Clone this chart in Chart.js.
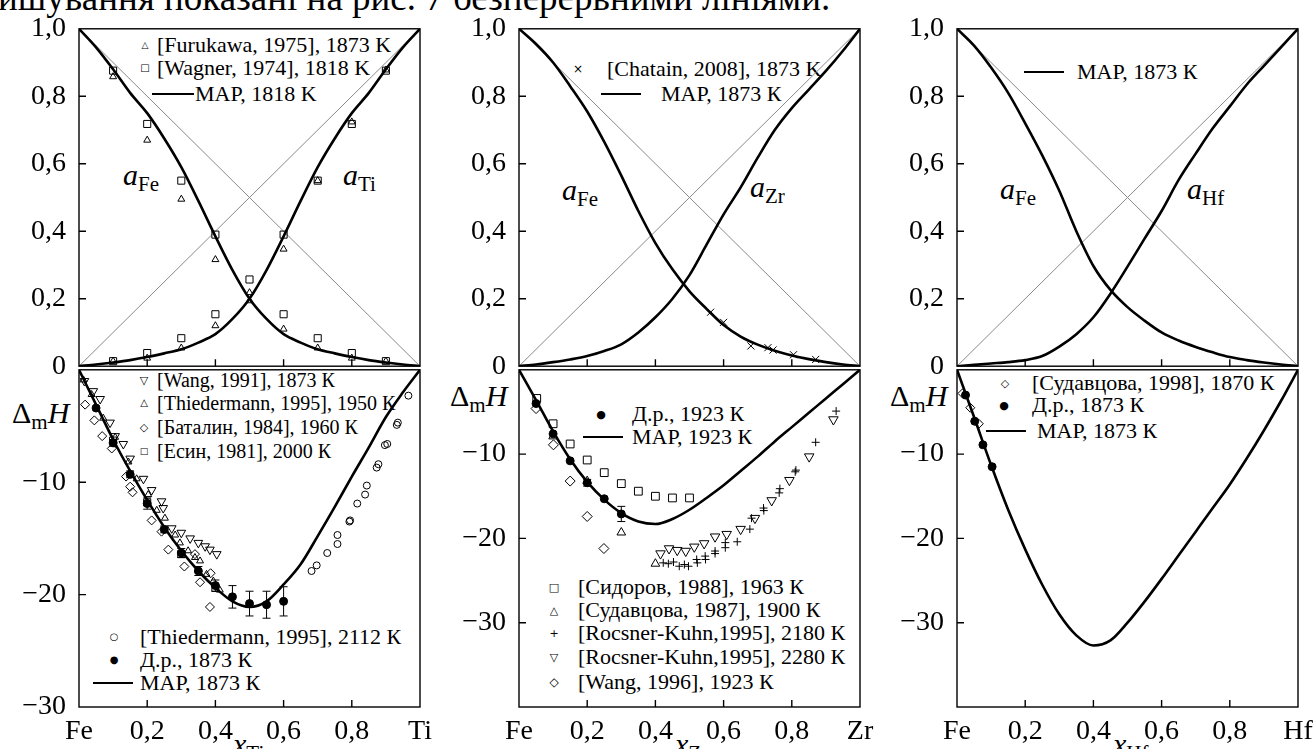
<!DOCTYPE html>
<html lang="uk">
<head>
<meta charset="UTF-8">
<title>Fe–Ti, Fe–Zr, Fe–Hf</title>
<script src="https://cdn.jsdelivr.net/npm/chart.js"></script>
<style>
  body { margin: 0; width: 1315px; height: 749px; overflow: hidden; background: #fff; position: relative;
         font-family: "Liberation Serif", "DejaVu Serif", serif; color: #000; }
  canvas { position: absolute; }
  .head { position: absolute; left: -2px; top: -21px; font-size: 37px; line-height: 37px; white-space: nowrap; }
  .lg { position: absolute; font-size: 22px; line-height: 1; white-space: nowrap; transform: translateY(-50%); }
  .lg.s { font-size: 20px; }
  .sym { position: absolute; font-family: "DejaVu Sans"; line-height: 1; transform: translate(-50%, -50%); }
  .ln { position: absolute; height: 0; border-top: 2.5px solid #000; }
  .big { position: absolute; font-size: 30px; line-height: 1; white-space: nowrap; transform: translateY(-50%); }
  .big i { font-style: italic; }
  .big sub { font-size: 21px; vertical-align: -6px; line-height: 0; }
</style>
</head>
<body>
<div class="head">ишування показані на рис. 7 безперервними лініями.</div>

<!-- панель Fe–Ti -->
<span class="sym" style="left:145px;top:45px;font-size:9px">△</span><span class="lg" style="left:157px;top:45px">[Furukawa, 1975], 1873 K</span>
<span class="sym" style="left:145px;top:68px;font-size:10px">□</span><span class="lg" style="left:157px;top:68px">[Wagner, 1974], 1818 K</span>
<span class="ln" style="left:152px;top:93px;width:42px"></span><span class="lg" style="left:195px;top:94px">MAP, 1818 K</span>
<span class="big" style="left:123px;top:175px"><i>a</i><sub>Fe</sub></span>
<span class="big" style="left:343px;top:175px"><i>a</i><sub>Ti</sub></span>
<span class="sym" style="left:144px;top:380px;font-size:11px">▽</span><span class="lg s" style="left:157px;top:380px">[Wang, 1991], 1873 К</span>
<span class="sym" style="left:144px;top:403px;font-size:10px">△</span><span class="lg s" style="left:157px;top:403px">[Thiedermann, 1995], 1950 К</span>
<span class="sym" style="left:144px;top:427px;font-size:11px">◇</span><span class="lg s" style="left:157px;top:427px">[Баталин, 1984], 1960 К</span>
<span class="sym" style="left:144px;top:451px;font-size:9px">□</span><span class="lg s" style="left:157px;top:451px">[Есин, 1981], 2000 К</span>
<span class="sym" style="left:114px;top:637px;font-size:10px">○</span><span class="lg" style="left:140px;top:637px">[Thiedermann, 1995], 2112 К</span>
<span class="sym" style="left:114px;top:660px;font-size:10px">●</span><span class="lg" style="left:140px;top:660px">Д.р., 1873 К</span>
<span class="ln" style="left:93px;top:682px;width:40px"></span><span class="lg" style="left:140px;top:683px">МАР, 1873 К</span>
<span class="big" style="left:12px;top:413px">Δ<sub>m</sub><i>H</i></span>
<span class="big" style="left:233px;top:744px"><i>x</i><sub>Ti</sub></span>

<!-- панель Fe–Zr -->
<span class="sym" style="left:578px;top:69px;font-size:12px">×</span><span class="lg" style="left:607px;top:69px">[Chatain, 2008], 1873 K</span>
<span class="ln" style="left:601px;top:93px;width:40px"></span><span class="lg" style="left:661px;top:94px">MAP, 1873 К</span>
<span class="big" style="left:562px;top:190px"><i>a</i><sub>Fe</sub></span>
<span class="big" style="left:750px;top:187px"><i>a</i><sub>Zr</sub></span>
<span class="sym" style="left:601px;top:414px;font-size:11px">●</span><span class="lg" style="left:632px;top:414px">Д.р., 1923 К</span>
<span class="ln" style="left:583px;top:436px;width:40px"></span><span class="lg" style="left:632px;top:437px">МАР, 1923 К</span>
<span class="sym" style="left:554px;top:587px;font-size:11px">□</span><span class="lg" style="left:578px;top:587px">[Сидоров, 1988], 1963 К</span>
<span class="sym" style="left:554px;top:610px;font-size:11px">△</span><span class="lg" style="left:578px;top:610px">[Судавцова, 1987], 1900 К</span>
<span class="sym" style="left:554px;top:633px;font-size:11px">+</span><span class="lg" style="left:578px;top:633px">[Rocsner-Kuhn,1995], 2180 К</span>
<span class="sym" style="left:554px;top:657px;font-size:11px">▽</span><span class="lg" style="left:578px;top:657px">[Rocsner-Kuhn,1995], 2280 К</span>
<span class="sym" style="left:554px;top:682px;font-size:12px">◇</span><span class="lg" style="left:578px;top:682px">[Wang, 1996], 1923 К</span>
<span class="big" style="left:450px;top:396px">Δ<sub>m</sub><i>H</i></span>
<span class="big" style="left:675px;top:744px"><i>x</i><sub>Zr</sub></span>

<!-- панель Fe–Hf -->
<span class="ln" style="left:1024px;top:71px;width:40px"></span><span class="lg" style="left:1077px;top:72px">MAP, 1873 К</span>
<span class="big" style="left:1000px;top:189px"><i>a</i><sub>Fe</sub></span>
<span class="big" style="left:1187px;top:189px"><i>a</i><sub>Hf</sub></span>
<span class="sym" style="left:1005px;top:383px;font-size:11px">◇</span><span class="lg" style="left:1032px;top:383px">[Судавцова, 1998], 1870 К</span>
<span class="sym" style="left:1004px;top:405px;font-size:11px">●</span><span class="lg" style="left:1032px;top:405px">Д.р., 1873 К</span>
<span class="ln" style="left:986px;top:430px;width:40px"></span><span class="lg" style="left:1037px;top:431px">МАР, 1873 К</span>
<span class="big" style="left:890px;top:396px">Δ<sub>m</sub><i>H</i></span>
<span class="big" style="left:1113px;top:744px"><i>x</i><sub>Hf</sub></span>

<script>
// мольна частка, в якій зчитані криві МАР
const xs = [0, 0.05, 0.1, 0.15, 0.2, 0.25, 0.3, 0.35, 0.4, 0.45, 0.5, 0.55, 0.6, 0.65, 0.7, 0.75, 0.8, 0.85, 0.9, 0.95, 1];
const diagX = [0, 1];
const diagUp = [0, 1];
const diagDown = [1, 0];

// Fe–Ti, активності
const p1aFe = [1, 0.945, 0.88, 0.81, 0.75, 0.675, 0.59, 0.49, 0.385, 0.285, 0.2, 0.14, 0.095, 0.07, 0.05, 0.038, 0.027, 0.018, 0.011, 0.005, 0];
const p1aTi = [0, 0.005, 0.011, 0.018, 0.027, 0.038, 0.05, 0.07, 0.095, 0.14, 0.2, 0.285, 0.385, 0.49, 0.59, 0.675, 0.75, 0.81, 0.88, 0.945, 1];
const furukawaX = [0.1, 0.2, 0.3, 0.4, 0.5, 0.5, 0.6, 0.7, 0.8, 0.9, 0.1, 0.2, 0.3, 0.4, 0.6, 0.7, 0.8, 0.9];
const furukawaY = [0.858, 0.67, 0.495, 0.316, 0.218, 0.194, 0.347, 0.55, 0.724, 0.878, 0.015, 0.024, 0.054, 0.12, 0.11, 0.054, 0.024, 0.015];
const wagnerX = [0.1, 0.2, 0.3, 0.4, 0.5, 0.6, 0.7, 0.8, 0.9, 0.1, 0.2, 0.3, 0.4, 0.6, 0.7, 0.8, 0.9];
const wagnerY = [0.876, 0.718, 0.55, 0.39, 0.257, 0.39, 0.55, 0.718, 0.876, 0.015, 0.039, 0.083, 0.154, 0.154, 0.083, 0.039, 0.015];

// Fe–Ti, ентальпія змішування
const p1H = [0, -3.1, -6.2, -9.0, -11.6, -14.0, -16.1, -17.9, -19.4, -20.6, -21.1, -20.6, -19.1, -17.3, -14.8, -12.2, -9.5, -6.9, -4.2, -2.0, 0];
const wang91X = [0.016, 0.042, 0.062, 0.091, 0.106, 0.13, 0.15, 0.189, 0.213, 0.242, 0.247, 0.272, 0.3, 0.326, 0.35, 0.37, 0.384, 0.404];
const wang91Y = [-1.0, -1.9, -2.6, -4.7, -5.9, -6.6, -7.9, -9.7, -10.7, -11.7, -12.3, -14.1, -14.5, -15.0, -15.4, -15.7, -16.0, -16.4];
const thied50X = [0.013, 0.037, 0.071, 0.106, 0.145, 0.169, 0.203, 0.228, 0.252, 0.282, 0.296, 0.32, 0.34, 0.355, 0.374, 0.394, 0.413];
const thied50Y = [-0.9, -2.2, -4.3, -6.0, -8.2, -9.7, -11.1, -12.5, -13.2, -14.7, -15.4, -16.1, -16.7, -17.0, -18.2, -18.8, -19.6];
const batalinX = [0.018, 0.045, 0.068, 0.096, 0.138, 0.15, 0.157, 0.213, 0.242, 0.262, 0.309, 0.34, 0.355, 0.386, 0.384];
const batalinY = [-3.1, -4.5, -5.9, -7.0, -9.5, -10.4, -10.9, -13.4, -14.4, -16.0, -17.5, -16.4, -18.9, -18.1, -21.1];
const esinX = [0.1, 0.2, 0.3, 0.4];
const esinY = [-6.3, -11.8, -16.4, -19.4];
const thied12X = [0.682, 0.697, 0.728, 0.758, 0.758, 0.793, 0.795, 0.816, 0.839, 0.844, 0.873, 0.878, 0.897, 0.904, 0.932, 0.935, 0.966];
const thied12Y = [-17.9, -17.4, -16.3, -15.5, -14.7, -13.5, -13.4, -11.9, -11.1, -10.3, -8.7, -8.4, -6.7, -6.6, -4.9, -4.7, -2.3];
const dr1X = [0.05, 0.1, 0.15, 0.2, 0.25, 0.3, 0.35, 0.4, 0.45, 0.5, 0.55, 0.6];
const dr1Y = [-3.4, -6.5, -9.3, -11.9, -14.2, -16.3, -17.9, -19.2, -20.2, -20.8, -20.9, -20.6];
const dr1Err = [0, 0.3, 0.3, 0.5, 0.3, 0.4, 0.4, 0.5, 1.0, 1.1, 1.2, 1.3];

// Fe–Zr, активності
const p2aFe = [1, 0.955, 0.9, 0.83, 0.755, 0.665, 0.565, 0.46, 0.365, 0.287, 0.222, 0.17, 0.122, 0.088, 0.064, 0.046, 0.032, 0.021, 0.012, 0.005, 0];
const p2aZr = [0, 0.005, 0.012, 0.02, 0.03, 0.045, 0.065, 0.1, 0.145, 0.2, 0.27, 0.36, 0.45, 0.53, 0.618, 0.7, 0.765, 0.82, 0.875, 0.935, 1];
const chatainX = [0.562, 0.6, 0.68, 0.73, 0.745, 0.805, 0.87];
const chatainY = [0.16, 0.13, 0.06, 0.055, 0.048, 0.034, 0.02];

// Fe–Zr, ентальпія змішування
const p2H = [0, -3.6, -7.3, -10.6, -13.3, -15.4, -17.0, -18.0, -18.3, -17.7, -16.6, -15.2, -13.7, -12.0, -10.3, -8.5, -6.8, -5.1, -3.4, -1.7, 0];
const dr2X = [0.05, 0.1, 0.15, 0.2, 0.25, 0.3];
const dr2Y = [-4.0, -7.6, -10.8, -13.4, -15.3, -17.1];
const dr2Err = [0, 0, 0, 0.4, 0, 0.9];
const sidorovX = [0.052, 0.1, 0.15, 0.2, 0.25, 0.3, 0.35, 0.4, 0.45, 0.5];
const sidorovY = [-3.4, -6.4, -8.8, -10.7, -12.2, -13.5, -14.4, -15.0, -15.2, -15.2];
const sud87X = [0.1, 0.2, 0.3, 0.4];
const sud87Y = [-7.9, -13.2, -19.3, -23.0];
const rk2180X = [0.423, 0.438, 0.453, 0.47, 0.485, 0.497, 0.521, 0.523, 0.546, 0.547, 0.575, 0.575, 0.605, 0.605, 0.64, 0.677, 0.682, 0.717, 0.718, 0.765, 0.763, 0.812, 0.81, 0.87, 0.93];
const rk2180Y = [-22.9, -23.0, -22.8, -23.3, -23.1, -23.3, -22.5, -22.9, -22.1, -22.5, -21.5, -21.8, -20.5, -21.1, -20.4, -18.9, -17.6, -16.4, -16.7, -14.1, -14.6, -11.9, -12.1, -8.6, -4.9];
const rk2280X = [0.415, 0.44, 0.464, 0.489, 0.514, 0.543, 0.575, 0.609, 0.65, 0.692, 0.741, 0.793, 0.851, 0.922];
const rk2280Y = [-21.8, -21.2, -21.4, -21.5, -21.0, -20.6, -19.8, -19.5, -18.9, -17.6, -15.5, -13.1, -10.3, -5.9];
const wang96X = [0.05, 0.101, 0.15, 0.2, 0.249];
const wang96Y = [-4.6, -8.9, -13.2, -17.4, -21.2];

// Fe–Hf, активності
const p3aFe = [1, 0.95, 0.885, 0.81, 0.72, 0.625, 0.52, 0.4, 0.297, 0.226, 0.175, 0.135, 0.1, 0.076, 0.057, 0.041, 0.027, 0.018, 0.011, 0.005, 0];
const p3aHf = [0, 0.004, 0.008, 0.012, 0.018, 0.03, 0.058, 0.095, 0.145, 0.215, 0.295, 0.378, 0.46, 0.552, 0.63, 0.705, 0.77, 0.835, 0.89, 0.945, 1];

// Fe–Hf, ентальпія змішування
const p3H = [0, -5.6, -11.3, -16.6, -21.3, -25.5, -29.0, -31.5, -32.7, -32.1, -30.0, -27.5, -24.8, -22.0, -19.2, -16.4, -13.6, -10.5, -7.2, -3.7, 0];
const sud98X = [0.016, 0.039, 0.064];
const sud98Y = [-2.8, -4.5, -6.4];
const dr3X = [0.025, 0.052, 0.076, 0.103];
const dr3Y = [-3.0, -6.1, -8.9, -11.5];

Chart.defaults.font.family = '"Liberation Serif", serif';
Chart.defaults.font.size = 28;
Chart.defaults.color = '#000';

const pts = (x, y) => x.map((v, i) => ({ x: v, y: y[i] }));

const curve = (x, y) => ({ data: pts(x, y), showLine: true, pointRadius: 0, borderColor: '#000', borderWidth: 2.6, cubicInterpolationMode: 'monotone' });
const thin = (x, y) => ({ data: pts(x, y), showLine: true, pointRadius: 0, borderColor: '#8a8a8a', borderWidth: 1 });
const marks = (x, y, style, r, extra) => Object.assign({
  data: pts(x, y), showLine: false, pointStyle: style, pointRadius: r, borderColor: '#000',
  backgroundColor: 'rgba(0,0,0,0)', borderWidth: 1
}, extra || {});

// рамка, внутрішні позначки осей та похибки
const frame = {
  id: 'frame',
  afterDatasetsDraw(chart) {
    const { ctx, chartArea: a, scales: { x, y } } = chart;
    ctx.save();
    ctx.strokeStyle = '#000';
    ctx.lineWidth = 1.4;
    ctx.strokeRect(a.left, a.top, a.right - a.left, a.bottom - a.top);
    ctx.beginPath();
    x.ticks.forEach(t => {
      if (t.value > 0.01 && t.value < 0.99) {
        const px = x.getPixelForValue(t.value);
        ctx.moveTo(px, a.bottom); ctx.lineTo(px, a.bottom - 7);
      }
    });
    y.ticks.forEach(t => {
      if (t.value > y.min && t.value < y.max) {
        const py = y.getPixelForValue(t.value);
        ctx.moveTo(a.left, py); ctx.lineTo(a.left + 7, py);
      }
    });
    ctx.stroke();
    ctx.lineWidth = 1;
    chart.data.datasets.forEach(ds => {
      if (!ds.errorBars) return;
      ds.data.forEach((p, i) => {
        const e = ds.errorBars[i];
        if (!e) return;
        const px = x.getPixelForValue(p.x);
        const y1 = y.getPixelForValue(p.y + e), y2 = y.getPixelForValue(p.y - e);
        ctx.beginPath();
        ctx.moveTo(px, y1); ctx.lineTo(px, y2);
        ctx.moveTo(px - 4, y1); ctx.lineTo(px + 4, y1);
        ctx.moveTo(px - 4, y2); ctx.lineTo(px + 4, y2);
        ctx.stroke();
      });
    });
    ctx.restore();
  }
};

const fmtA = v => v === 0 ? '0' : v.toFixed(1).replace('.', ',');
const fmtH = v => (v === 0 || v < -35) ? '' : '\u2212' + Math.abs(v);
const fmtX = end => v => v === 0 ? 'Fe' : (Math.abs(v - 1) < 1e-9 ? end : v.toFixed(1).replace('.', ','));

function panel(box, yOpt, xEnd, datasets) {
  const lower = !!xEnd;
  const c = document.createElement('canvas');
  c.width = box.r - box.l + 75 + 24;
  c.height = box.b - box.t + 20 + (lower ? 44 : 20);
  c.style.left = (box.l - 75) + 'px';
  c.style.top = (box.t - 20) + 'px';
  document.body.appendChild(c);
  return new Chart(c, {
    type: 'scatter',
    data: { datasets },
    options: {
      responsive: false,
      animation: false,
      events: [],
      layout: { padding: { left: 0, top: 20, right: 24, bottom: lower ? 0 : 20 } },
      plugins: { legend: { display: false }, tooltip: { enabled: false } },
      scales: {
        x: {
          type: 'linear', min: 0, max: 1,
          grid: { display: false }, border: { display: false },
          ticks: { display: lower, stepSize: 0.2, padding: 0, maxRotation: 0, autoSkip: false, callback: lower ? fmtX(xEnd) : fmtA },
          afterFit: s => { s.height = lower ? 44 : 0; }
        },
        y: {
          type: 'linear', min: yOpt.min, max: yOpt.max,
          grid: { display: false }, border: { display: false },
          ticks: { stepSize: yOpt.step, padding: 5, autoSkip: false, callback: yOpt.fmt },
          afterFit: s => { s.width = 75; }
        }
      }
    },
    plugins: [frame]
  });
}

const upperY = { min: 0, max: 1, step: 0.2, fmt: fmtA };

// Fe–Ti
panel({ l: 79, t: 27, r: 420, b: 368 }, upperY, null, [
  marks(furukawaX, furukawaY, 'triangle', 4),
  marks(wagnerX, wagnerY, 'rect', 5),
  curve(xs, p1aFe), curve(xs, p1aTi),
  thin(diagX, diagUp), thin(diagX, diagDown)
]);
panel({ l: 79, t: 368, r: 420, b: 707 }, { min: -30, max: 0, step: 10, fmt: fmtH }, 'Ti', [
  marks(dr1X, dr1Y, 'circle', 4, { backgroundColor: '#000', errorBars: dr1Err }),
  marks(wang91X, wang91Y, 'triangle', 5, { rotation: 180 }),
  marks(thied50X, thied50Y, 'triangle', 4),
  marks(batalinX, batalinY, 'rectRot', 4.5),
  marks(esinX, esinY, 'rect', 5),
  marks(thied12X, thied12Y, 'circle', 3.5),
  curve(xs, p1H)
]);

// Fe–Zr
panel({ l: 519, t: 27, r: 860, b: 368 }, upperY, null, [
  marks(chatainX, chatainY, 'crossRot', 5),
  curve(xs, p2aFe), curve(xs, p2aZr),
  thin(diagX, diagUp), thin(diagX, diagDown)
]);
panel({ l: 519, t: 368, r: 860, b: 707 }, { min: -40, max: 0, step: 10, fmt: fmtH }, 'Zr', [
  marks(dr2X, dr2Y, 'circle', 4, { backgroundColor: '#000', errorBars: dr2Err }),
  marks(sidorovX, sidorovY, 'rect', 5.5),
  marks(sud87X, sud87Y, 'triangle', 5),
  marks(rk2180X, rk2180Y, 'cross', 4),
  marks(rk2280X, rk2280Y, 'triangle', 5.5, { rotation: 180 }),
  marks(wang96X, wang96Y, 'rectRot', 5),
  curve(xs, p2H)
]);

// Fe–Hf
panel({ l: 957, t: 27, r: 1298, b: 368 }, upperY, null, [
  curve(xs, p3aFe), curve(xs, p3aHf),
  thin(diagX, diagUp), thin(diagX, diagDown)
]);
panel({ l: 957, t: 368, r: 1298, b: 707 }, { min: -40, max: 0, step: 10, fmt: fmtH }, 'Hf', [
  marks(dr3X, dr3Y, 'circle', 4, { backgroundColor: '#000' }),
  marks(sud98X, sud98Y, 'rectRot', 4.5),
  curve(xs, p3H)
]);
</script>
</body>
</html>
